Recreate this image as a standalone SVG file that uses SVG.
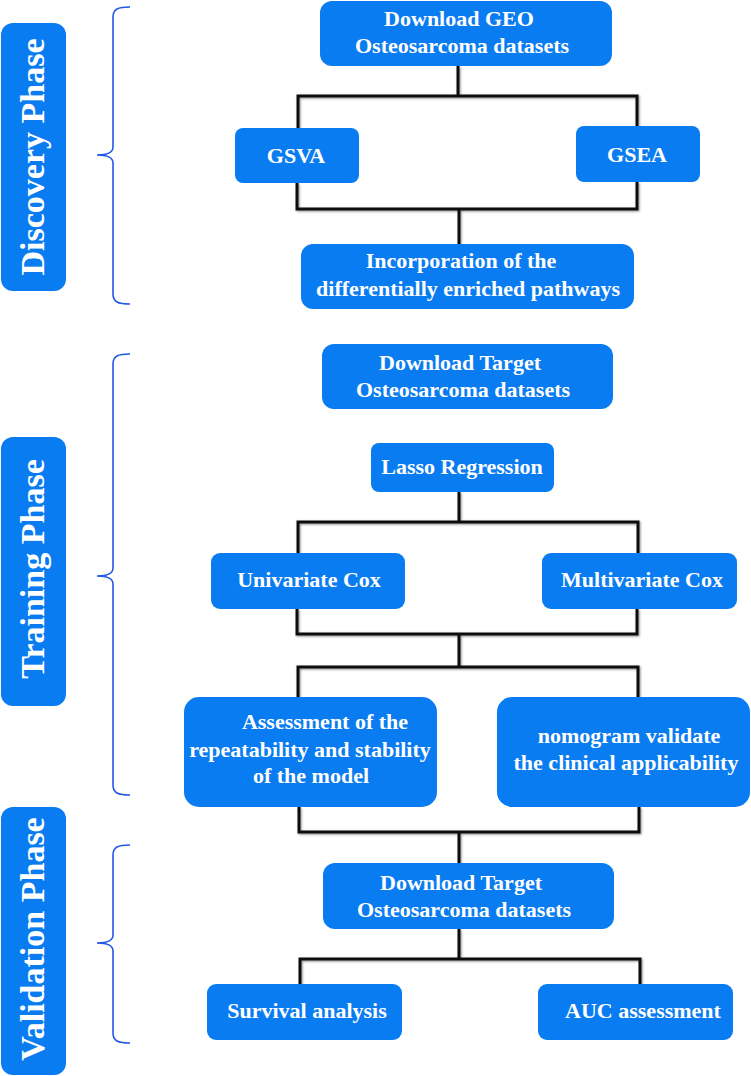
<svg xmlns="http://www.w3.org/2000/svg" width="751" height="1076" viewBox="0 0 751 1076">
<defs>
<style>
.box{fill:#0a7cf2;}
.t{font-family:"Liberation Serif","Times New Roman",serif;font-weight:bold;font-size:22px;fill:#fff;text-anchor:middle;}
.ph{font-family:"Liberation Serif","Times New Roman",serif;font-weight:bold;font-size:34px;fill:#fff;text-anchor:middle;}
.ln{fill:none;stroke:#111;stroke-width:3;filter:url(#sh);}
.br{fill:none;stroke:#2458e6;stroke-width:1.6;}
</style>
<filter id="sh" x="-5%" y="-20%" width="110%" height="140%">
<feDropShadow dx="1" dy="1" stdDeviation="1.2" flood-color="#000" flood-opacity="0.45"/>
</filter>
</defs>
<rect width="751" height="1076" fill="#fff"/>

<g id="connectors">
<path class="ln" d="M458,66 V96 M298,128 V96 H637 V126"/>
<path class="ln" d="M297,183 V209 H637 V182 M459,209 V244"/>
<path class="ln" d="M459,309 V344"/>
<path class="ln" d="M459,409 V443"/>
<path class="ln" d="M459,492 V522 M298,553 V522 H638 V553"/>
<path class="ln" d="M297,609 V634 H637 V609 M459,634 V667 M298,697 V667 H638 V697"/>
<path class="ln" d="M299,807 V832 H639 V807 M459,832 V863"/>
<path class="ln" d="M459,929 V959 M300,984 V959 H640 V984"/>
</g>

<g id="braces">
<path class="br" d="M130,7 C118,7 113,9 113,17 L113,147 C113,152 108,155 97,155 C108,155 113,158 113,163 L113,294 C113,302 118,304 130,304"/>
<path class="br" d="M130,354 C118,354 113,356 113,364 L113,568 C113,573 108,576 97,576 C108,576 113,579 113,584 L113,785 C113,793 118,795 130,795"/>
<path class="br" d="M130,845 C118,845 113,847 113,855 L113,935 C113,940 108,943 97,943 C108,943 113,946 113,951 L113,1033 C113,1041 118,1043 130,1043"/>
</g>

<g id="phase-discovery">
<rect class="box" x="1" y="23" width="65" height="268" rx="12"/>
<text class="ph" transform="translate(44,157) rotate(-90)">Discovery Phase</text>
</g>
<g id="phase-training">
<rect class="box" x="1" y="437" width="65" height="269" rx="12"/>
<text class="ph" transform="translate(44,569) rotate(-90)">Training Phase</text>
</g>
<g id="phase-validation">
<rect class="box" x="1" y="807" width="65" height="268" rx="12"/>
<text class="ph" transform="translate(44,939) rotate(-90)">Validation Phase</text>
</g>

<g id="n-geo">
<rect class="box" x="320" y="1" width="292" height="65" rx="12"/>
<text class="t" x="459" y="26">Download GEO</text>
<text class="t" x="462" y="53">Osteosarcoma datasets</text>
</g>
<g id="n-gsva">
<rect class="box" x="235" y="128" width="124" height="55" rx="8"/>
<text class="t" x="296" y="163">GSVA</text>
</g>
<g id="n-gsea">
<rect class="box" x="576" y="126" width="124" height="56" rx="8"/>
<text class="t" x="637" y="162">GSEA</text>
</g>
<g id="n-incorp">
<rect class="box" x="301" y="244" width="333" height="65" rx="12"/>
<text class="t" x="461" y="268">Incorporation of the</text>
<text class="t" x="468" y="296">differentially enriched pathways</text>
</g>
<g id="n-target1">
<rect class="box" x="322" y="344" width="291" height="65" rx="12"/>
<text class="t" x="460" y="370">Download Target</text>
<text class="t" x="463" y="397">Osteosarcoma datasets</text>
</g>
<g id="n-lasso">
<rect class="box" x="371" y="443" width="183" height="49" rx="8"/>
<text class="t" x="462" y="474">Lasso Regression</text>
</g>
<g id="n-univ">
<rect class="box" x="211" y="553" width="194" height="56" rx="9"/>
<text class="t" x="309" y="587">Univariate Cox</text>
</g>
<g id="n-multi">
<rect class="box" x="542" y="553" width="195" height="56" rx="9"/>
<text class="t" x="642" y="587">Multivariate Cox</text>
</g>
<g id="n-assess">
<rect class="box" x="184" y="697" width="253" height="110" rx="15"/>
<text class="t" x="325" y="729">Assessment of the</text>
<text class="t" x="310" y="757">repeatability and stability</text>
<text class="t" x="311" y="783">of the model</text>
</g>
<g id="n-nomo">
<rect class="box" x="497" y="697" width="253" height="110" rx="15"/>
<text class="t" x="629" y="743">nomogram validate</text>
<text class="t" x="626" y="770">the clinical applicability</text>
</g>
<g id="n-target2">
<rect class="box" x="323" y="863" width="291" height="66" rx="12"/>
<text class="t" x="461" y="890">Download Target</text>
<text class="t" x="464" y="917">Osteosarcoma datasets</text>
</g>
<g id="n-surv">
<rect class="box" x="207" y="984" width="195" height="56" rx="9"/>
<text class="t" x="307" y="1018">Survival analysis</text>
</g>
<g id="n-auc">
<rect class="box" x="538" y="984" width="195" height="56" rx="9"/>
<text class="t" x="643" y="1018">AUC assessment</text>
</g>
</svg>
